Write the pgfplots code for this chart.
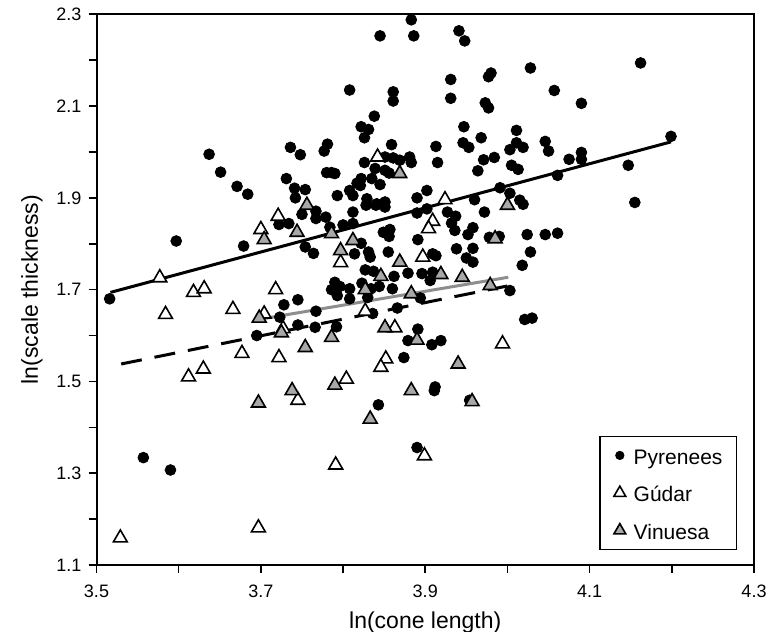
\documentclass[border=0pt]{standalone}
\usepackage{fontspec}
\setmainfont{Liberation Sans}
\usepackage{pgfplots}
\pgfplotsset{compat=1.18}
\definecolor{vingray}{HTML}{A8A8A8}
\definecolor{linegray}{HTML}{8E8E8E}
\pgfplotsset{legmark/.style={legend image code/.code={%
  \draw[mark repeat=2,mark phase=2,##1,mark size=#1] plot coordinates {(0pt,0pt) (3.5pt,0pt) (7pt,0pt)};}}}

\begin{document}
\begin{tikzpicture}
\begin{axis}[
  width=328.75pt, height=275.35pt, scale only axis,
  xmin=3.5, xmax=4.3, ymin=1.1, ymax=2.3,
  xtick={3.5,3.7,3.9,4.1,4.3}, minor xtick={3.6,3.8,4.0,4.2},
  ytick={1.1,1.3,1.5,1.7,1.9,2.1,2.3}, minor ytick={1.2,1.4,1.6,1.8,2.0,2.2},
  tick align=outside, tick pos=left,
  major tick length=4pt, minor tick length=4pt,
  tick style={black, line width=0.8pt},
  axis line style={line width=1pt},
  /pgf/number format/assume math mode=true,
  xticklabel style={yshift=-2.6pt, /pgf/number format/fixed, /pgf/number format/fixed zerofill, /pgf/number format/precision=1},
  yticklabel style={/pgf/number format/fixed, /pgf/number format/fixed zerofill, /pgf/number format/precision=1},
  tick label style={font=\fontsize{9}{10}\selectfont},
  label style={font=\fontsize{11.5}{13}\selectfont},
  xlabel={ln(cone length)}, ylabel={ln(scale thickness)},
  legend cell align=left,
  legend style={at={(0.9742,0.0272)}, anchor=south east, draw=black, line width=0.6pt,
    font=\fontsize{10.5}{12}\selectfont, row sep=9.75pt, column sep=4pt,
    inner xsep=7pt, inner ysep=5pt,
    nodes={inner sep=0pt, text height=9pt, text depth=0pt}},
]
\coordinate (bl) at (rel axis cs:0,0);
\coordinate (tr) at (rel axis cs:1,1);
% Pyrenees
\addplot[only marks, mark=*, mark size=2.7pt, black, legmark=2pt]
coordinates {
(3.637,1.995) (3.651,1.956) (3.671,1.925) (3.684,1.908) (3.736,2.010) (3.748,1.994)
(3.731,1.942) (3.741,1.921) (3.754,1.918) (3.742,1.900) (3.883,2.288) (3.845,2.253)
(3.886,2.253) (3.941,2.264) (3.948,2.242) (3.808,2.135) (3.861,2.131) (3.861,2.111)
(3.931,2.158) (3.931,2.117) (3.977,2.164) (3.980,2.172) (3.973,2.107) (3.977,2.096)
(3.838,2.078) (3.822,2.055) (3.831,2.049) (3.826,2.031) (3.947,2.055) (3.946,2.020)
(3.953,2.010) (3.968,2.031) (4.011,2.047) (3.781,2.017) (3.777,2.002) (3.859,2.016)
(3.913,2.012) (3.915,1.977) (3.971,1.983) (3.984,1.988) (4.003,2.005) (3.964,1.959)
(3.826,1.977) (3.851,1.989) (3.861,1.987) (3.869,1.982) (3.881,1.989) (3.883,1.977)
(3.839,1.964) (3.851,1.960) (3.856,1.954) (3.780,1.955) (3.786,1.955) (3.790,1.953)
(3.835,1.942) (3.845,1.929) (3.822,1.942) (3.817,1.932) (3.821,1.927) (3.808,1.916)
(3.812,1.905) (3.793,1.905) (3.890,1.900) (3.902,1.916) (3.960,1.896) (3.991,1.922)
(4.003,1.910) (3.829,1.898) (3.841,1.887) (3.851,1.891) (4.028,2.183) (4.162,2.194)
(4.057,2.134) (4.090,2.106) (4.011,2.020) (4.019,2.010) (4.046,2.023) (4.050,2.002)
(4.090,1.999) (4.090,1.984) (4.075,1.984) (4.005,1.971) (4.013,1.962) (4.061,1.949)
(4.147,1.971) (4.199,2.034) (4.155,1.890) (4.015,1.895) (4.019,1.886) (4.024,1.820)
(4.046,1.820) (4.061,1.823) (4.028,1.782) (4.018,1.753) (4.003,1.698) (4.021,1.635)
(4.030,1.638) (3.597,1.806) (3.679,1.795) (3.516,1.680) (3.722,1.842) (3.734,1.844)
(3.750,1.864) (3.754,1.793) (3.728,1.667) (3.745,1.678) (3.723,1.640) (3.745,1.623)
(3.695,1.600) (3.557,1.334) (3.590,1.307) (3.843,1.449) (3.890,1.356) (3.911,1.480)
(3.954,1.459) (3.767,1.871) (3.779,1.858) (3.767,1.855) (3.812,1.869) (3.828,1.884)
(3.840,1.884) (3.851,1.880) (3.890,1.867) (3.902,1.876) (3.927,1.869) (3.937,1.860)
(3.932,1.845) (3.936,1.829) (3.972,1.869) (3.958,1.835) (3.952,1.820) (3.978,1.814)
(3.990,1.816) (3.784,1.836) (3.800,1.841) (3.812,1.844) (3.849,1.825) (3.857,1.831)
(3.856,1.816) (3.822,1.801) (3.891,1.809) (3.764,1.779) (3.814,1.778) (3.831,1.782)
(3.833,1.771) (3.855,1.782) (3.909,1.778) (3.913,1.774) (3.938,1.789) (3.958,1.790)
(3.950,1.769) (3.958,1.760) (3.827,1.743) (3.837,1.740) (3.862,1.729) (3.879,1.736)
(3.896,1.735) (3.909,1.738) (3.906,1.720) (3.790,1.716) (3.796,1.707) (3.786,1.700)
(3.808,1.702) (3.823,1.714) (3.834,1.702) (3.844,1.707) (3.860,1.702) (3.793,1.687)
(3.808,1.680) (3.830,1.683) (3.894,1.682) (3.767,1.653) (3.866,1.660) (3.836,1.648)
(3.792,1.619) (3.766,1.618) (3.891,1.614) (3.879,1.589) (3.908,1.580) (3.919,1.589)
(3.874,1.552) (3.912,1.488)
};
\addlegendentry{Pyrenees}
% Gudar
\addplot[only marks, mark=triangle*, mark size=4pt,
  mark options={draw=black, fill=white, line width=0.8pt}, legmark=3.4pt]
coordinates {
(3.529,1.159) (3.697,1.181) (3.577,1.726) (3.618,1.694) (3.631,1.702) (3.584,1.646)
(3.666,1.657) (3.721,1.860) (3.700,1.831) (3.718,1.700) (3.704,1.647) (3.727,1.615)
(3.677,1.561) (3.722,1.552) (3.612,1.510) (3.630,1.527) (3.745,1.459) (3.791,1.318)
(3.899,1.338) (3.842,1.989) (3.924,1.896) (3.909,1.849) (3.904,1.833) (3.797,1.759)
(3.897,1.771) (3.827,1.653) (3.863,1.617) (3.994,1.582) (3.852,1.549) (3.846,1.531)
(3.804,1.505)
};
\addlegendentry{Gúdar}
% Vinuesa
\addplot[only marks, mark=triangle*, mark size=4pt,
  mark options={draw=black, fill=vingray, line width=0.8pt}, legmark=3.4pt]
coordinates {
(3.704,1.809) (3.744,1.825) (3.756,1.884) (3.698,1.638) (3.725,1.606) (3.754,1.574)
(3.738,1.480) (3.697,1.453) (3.869,1.953) (4.000,1.884) (3.786,1.822) (3.812,1.807)
(3.985,1.811) (3.797,1.785) (3.869,1.760) (3.919,1.733) (3.846,1.729) (3.945,1.727)
(3.979,1.709) (3.827,1.700) (3.883,1.691) (3.851,1.617) (3.786,1.596) (3.890,1.590)
(3.940,1.538) (3.790,1.492) (3.883,1.480) (3.957,1.456) (3.833,1.418)
};
\addlegendentry{Vinuesa}
% fitted lines
\addplot[forget plot, black, line width=1.5pt] coordinates {(3.517,1.694) (4.199,2.022)};
\addplot[forget plot, black, line width=1.5pt, dash pattern=on 10.5pt off 6.5pt] coordinates {(3.530,1.538) (4.000,1.708)};
\addplot[forget plot, linegray, line width=1.5pt] coordinates {(3.697,1.635) (4.001,1.727)};
\end{axis}
\pgfresetboundingbox
\path ([shift={(-48.25pt,-33pt)}]bl) rectangle ([shift={(8pt,7.15pt)}]tr);
\end{tikzpicture}
\end{document}
